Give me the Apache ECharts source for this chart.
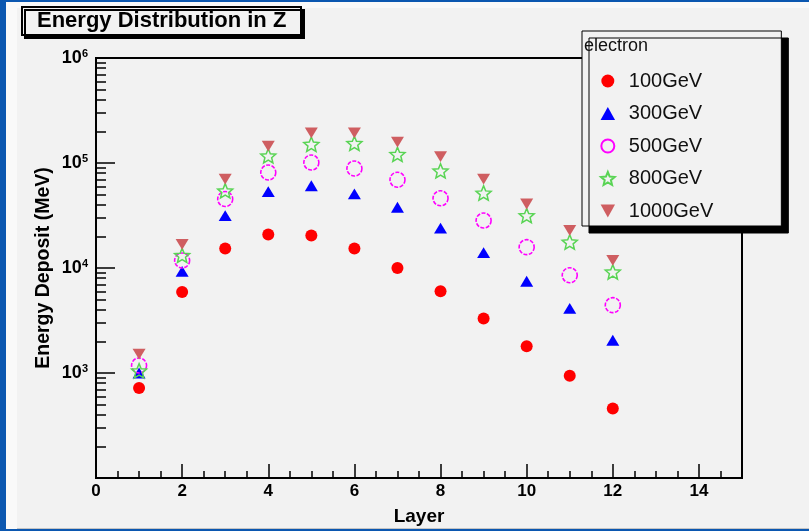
<!DOCTYPE html>
<html>
<head>
<meta charset="utf-8">
<style type="text/css">
html, body { margin: 0; padding: 0; width: 809px; height: 531px; overflow: hidden; background: #0b57b0; }
.edge { position: absolute; left: 6px; top: 2px; width: 803px; height: 527px; background: #f9f9f9; }
.pad { position: absolute; left: 17px; top: 8px; width: 792px; height: 520px; background: #f2f2f2; border-bottom: 1px solid #c4c4c4; }
#main { position: absolute; left: 0; top: 0; width: 809px; height: 531px; }
</style>
<script type="text/javascript" src="https://cdn.jsdelivr.net/npm/echarts@6/dist/echarts.min.js"></script>
</head>
<body>
<div class="edge"></div>
<div class="pad"></div>
<div id="main"></div>
<script type="text/javascript">
var layers = [1, 2, 3, 4, 5, 6, 7, 8, 9, 10, 11, 12];
var e100 = [720, 5900, 15300, 20800, 20400, 15300, 10000, 6000, 3300, 1800, 940, 460];
var e300 = [1000, 9300, 31600, 53300, 60700, 50700, 37900, 24000, 14000, 7480, 4130, 2050];
var e500 = [1180, 11800, 45400, 81300, 101000, 88700, 69200, 46100, 28300, 15800, 8530, 4430];
var e800 = [1050, 13200, 54400, 117000, 151000, 154000, 121000, 84200, 51800, 31600, 17700, 9180];
var e1000 = [1510, 16800, 70300, 145000, 194000, 194000, 158000, 115000, 70300, 40700, 22800, 11800];

var xLabels = [0, 2, 4, 6, 8, 10, 12, 14];
var xMinor = [0.5, 1, 1.5, 2.5, 3, 3.5, 4.5, 5, 5.5, 6.5, 7, 7.5, 8.5, 9, 9.5,
	10.5, 11, 11.5, 12.5, 13, 13.5, 14.5];
var yLabels = [1000, 10000, 100000, 1000000];
var yMinor = [200, 300, 400, 500, 600, 700, 800, 900,
	2000, 3000, 4000, 5000, 6000, 7000, 8000, 9000,
	20000, 30000, 40000, 50000, 60000, 70000, 80000, 90000,
	200000, 300000, 400000, 500000, 600000, 700000, 800000, 900000];

var FONT = '"Liberation Sans", Arial, Helvetica, sans-serif';
// ROOT-like markers: open star, up / down triangles
var STAR = 'path://M10,0L12.6,6.4L19.5,6.9L14.3,11.4L15.9,18.1L10,14.5L4.1,18.1L5.7,11.4L0.5,6.9L7.4,6.4Z';
var UP = 'path://M5,0L10,9L0,9Z';
var DOWN = 'path://M0,0L10,0L5,9Z';

function pts(arr) {
	return layers.map(function (l, i) { return [l, arr[i]]; });
}

function ser(name, arr, sym, size, style) {
	style.opacity = 1;
	return {
		name: name,
		type: 'scatter',
		xAxisIndex: 0,
		yAxisIndex: 0,
		symbol: sym,
		symbolSize: size,
		symbolKeepAspect: true,
		data: pts(arr),
		itemStyle: style,
		emphasis: { disabled: true }
	};
}

var chart = echarts.init(document.getElementById('main'));
var axisBase = {
	min: 0, max: 15,
	axisLine: { show: false },
	splitLine: { show: false }
};

chart.setOption({
	animation: false,
	textStyle: { fontFamily: FONT },
	title: [{
		text: 'Energy Distribution in Z',
		left: 22, top: 7,
		padding: [3, 15, 3, 15],
		backgroundColor: '#f2f2f2',
		borderColor: '#000', borderWidth: 2,
		shadowColor: '#000', shadowBlur: 0, shadowOffsetX: 3, shadowOffsetY: 3,
		textStyle: { fontFamily: FONT, fontSize: 22, fontWeight: 'bold', color: '#000', lineHeight: 22 }
	}, {
		text: 'electron',
		left: 584, top: 37, padding: 0, z: 20,
		textStyle: { fontFamily: FONT, fontSize: 18, fontWeight: 'normal', color: '#111' }
	}],
	legend: {
		orient: 'vertical',
		left: 582, top: 31,
		padding: [40, 68, 5, 18],
		itemWidth: 32, itemHeight: 13, itemGap: 12.5,
		backgroundColor: '#f2f2f2',
		borderColor: '#000', borderWidth: 1,
		shadowColor: '#000', shadowBlur: 0, shadowOffsetX: 7, shadowOffsetY: 7,
		textStyle: { fontFamily: FONT, fontSize: 20, color: '#111', lineHeight: 20 },
		data: ['100GeV', '300GeV', '500GeV', '800GeV', '1000GeV']
	},
	grid: {
		left: 96, top: 58, width: 646, height: 424,
		show: true, borderColor: '#000', borderWidth: 2, backgroundColor: 'transparent'
	},
	xAxis: [
		Object.assign({}, axisBase, {
			type: 'value',
			name: 'Layer', nameLocation: 'middle', nameGap: 29,
			nameTextStyle: { fontFamily: FONT, fontSize: 19, fontWeight: 'bold', color: '#000' },
			axisTick: { inside: true, length: 14, lineStyle: { color: '#000', width: 1.5 }, customValues: xLabels },
			axisLabel: { customValues: xLabels, margin: 5, fontFamily: FONT, fontSize: 17, fontWeight: 'bold', color: '#000' }
		}),
		Object.assign({}, axisBase, {
			type: 'value', position: 'bottom',
			axisTick: { inside: true, length: 7, lineStyle: { color: '#000', width: 1.5 }, customValues: xMinor },
			axisLabel: { show: false }
		})
	],
	yAxis: [{
		type: 'log', logBase: 10, min: 100, max: 1000000,
		name: 'Energy Deposit (MeV)', nameLocation: 'middle', nameGap: 42, nameMoveOverlap: false,
		nameTextStyle: { fontFamily: FONT, fontSize: 19.5, fontWeight: 'bold', color: '#000' },
		axisLine: { show: false },
		splitLine: { show: false },
		axisTick: { inside: true, length: 19, lineStyle: { color: '#000', width: 1.5 }, customValues: yLabels },
		axisLabel: {
			customValues: yLabels,
			margin: 8,
			formatter: function (v) {
				return '{b|10}{e|' + Math.round(Math.log10(v)) + '}';
			},
			rich: {
				b: { fontFamily: FONT, fontSize: 18, fontWeight: 'bold', color: '#000' },
				e: { fontFamily: FONT, fontSize: 11, fontWeight: 'bold', color: '#000', verticalAlign: 'bottom', padding: [0, 0, 9, 0] }
			}
		}
	}, {
		type: 'log', logBase: 10, min: 100, max: 1000000, position: 'left',
		axisLine: { show: false },
		splitLine: { show: false },
		axisTick: { inside: true, length: 10, lineStyle: { color: '#000', width: 1.5 }, customValues: yMinor },
		axisLabel: { show: false }
	}],
	series: [
		ser('100GeV', e100, 'circle', 12, { color: '#ff0000' }),
		ser('300GeV', e300, UP, [13, 12], { color: '#0000ff' }),
		ser('500GeV', e500, 'circle', 15, { color: 'rgba(0,0,0,0)', borderColor: '#ff00ff', borderWidth: 1.6, borderType: [4, 1.5] }),
		ser('800GeV', e800, STAR, 15, { color: 'rgba(0,0,0,0)', borderColor: '#59d454', borderWidth: 1.5 }),
		ser('1000GeV', e1000, DOWN, [13, 12], { color: '#cf5e61' })
	]
});
</script>
</body>
</html>
